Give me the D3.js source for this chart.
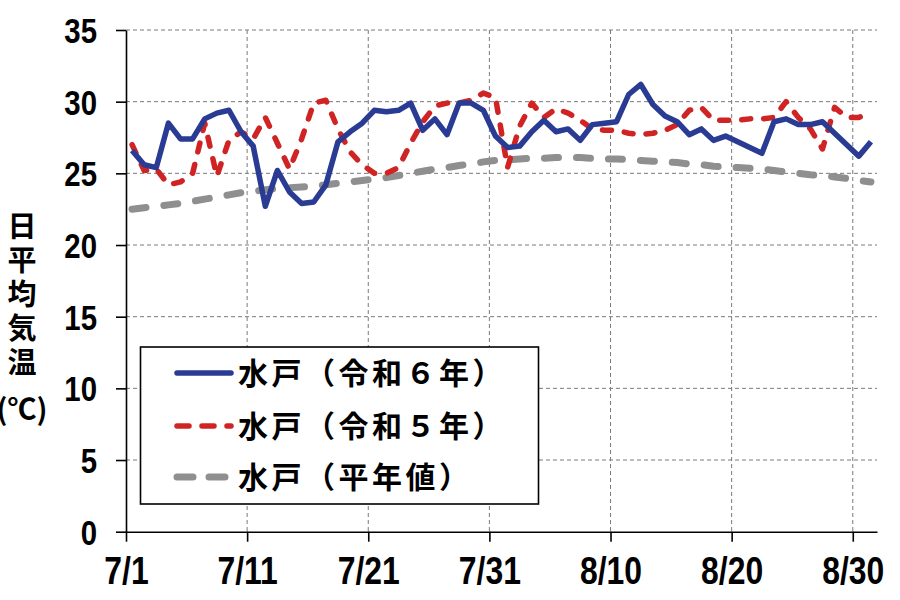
<!DOCTYPE html>
<html>
<head>
<meta charset="utf-8">
<script src="https://cdn.jsdelivr.net/npm/d3@7"></script>
<style>
  html, body { margin: 0; padding: 0; background: #fff; }
  svg { display: block; }
</style>
</head>
<body>
<div id="chart"></div>
<script>
// 日付 7/1 .. 8/31
var days = [];
for (var m = 7; m <= 8; m++) {
    for (var d = 1; d <= 31; d++) days.push(m + "/" + d);
}
var tickLabels = ["7/1", "7/11", "7/21", "7/31", "8/10", "8/20", "8/30"];
var yTicks = [0, 5, 10, 15, 20, 25, 30, 35];

// 水戸（令和６年）
var r6 = [26.6, 25.6, 25.4, 28.5, 27.4, 27.4, 28.8, 29.2, 29.4, 27.9,
          26.9, 22.7, 25.2, 23.7, 22.9, 23.0, 24.2, 27.2, 27.9, 28.5,
          29.4, 29.3, 29.4, 29.9, 28.0, 28.8, 27.7, 29.9, 29.9, 29.4,
          27.6, 26.8, 26.9, 27.9, 28.7, 27.9, 28.1, 27.3, 28.4, 28.5,
          28.6, 30.5, 31.2, 29.8, 29.0, 28.6, 27.7, 28.1, 27.3, 27.6,
          27.2, 26.8, 26.4, 28.6, 28.8, 28.4, 28.4, 28.6, 27.8, 27.0,
          26.2, 27.2];
// 水戸（令和５年）
var r5 = [27.0, 25.2, 25.3, 24.2, 24.4, 25.0, 28.5, 24.8, 27.3, 27.9,
          27.4, 28.9, 27.1, 25.3, 27.4, 29.9, 30.1, 28.1, 26.5, 25.6,
          25.0, 25.0, 25.4, 27.1, 28.6, 29.7, 29.9, 29.9, 30.1, 30.6,
          30.3, 25.4, 28.3, 29.9, 28.9, 29.5, 29.2, 28.7, 28.1, 28.0,
          28.0, 27.8, 27.7, 27.8, 28.0, 28.4, 29.4, 29.6, 28.7, 28.7,
          28.7, 28.8, 28.8, 28.9, 30.0, 28.9, 28.1, 26.7, 29.6, 28.9,
          28.9, 29.2];
// 水戸（平年値）
var normal = [22.5, 22.6, 22.7, 22.8, 22.9, 23.05, 23.2, 23.35, 23.5, 23.65,
              23.75, 23.85, 23.95, 24.0, 24.05, 24.1, 24.2, 24.3, 24.4, 24.5,
              24.6, 24.7, 24.85, 25.0, 25.15, 25.3, 25.4, 25.55, 25.65, 25.8,
              25.9, 25.95, 26.0, 26.05, 26.05, 26.1, 26.1, 26.1, 26.05, 26.0,
              26.0, 25.95, 25.9, 25.85, 25.8, 25.75, 25.65, 25.6, 25.5, 25.45,
              25.4, 25.35, 25.3, 25.2, 25.1, 25.0, 24.9, 24.85, 24.75, 24.65,
              24.5, 24.4];

var series = [
    { name: "水戸（令和６年）", values: r6, color: "#2a3b94", width: 5.5, dash: null, legendDash: null },
    { name: "水戸（令和５年）", values: r5, color: "#d02424", width: 5.5, dash: "9 13", legendDash: "12 13" },
    { name: "水戸（平年値）", values: normal, color: "#8f8f8f", width: 7, dash: "14 18", legendDash: "16 16" }
];

var width = 900, height = 600;
var margin = { left: 126, right: 877, top: 30, bottom: 531.7 };
var numFont = "'Liberation Sans',Arial,sans-serif";
var jpFont = "'Noto Sans CJK JP','Noto Sans CJK SC',sans-serif";
var squeeze = 0.84; // 数字を細長くする

var svg = d3.select("#chart").append("svg")
    .attr("width", width)
    .attr("height", height);

// 比例尺
var x = d3.scaleLinear().domain([0, days.length]).range([margin.left, margin.right]);
var y = d3.scaleLinear().domain([0, 35]).range([margin.bottom, margin.top]);
var xPos = function (i) { return x(i + 0.5); };

// グリッド
var grid = svg.append("g").attr("class", "grid")
    .attr("stroke", "#7a7a7a")
    .attr("stroke-width", 1)
    .attr("stroke-dasharray", "4 3");
grid.selectAll(".h").data(yTicks.filter(function (v) { return v > 0; }))
    .enter().append("line")
    .attr("x1", margin.left).attr("x2", margin.right)
    .attr("y1", function (v) { return y(v); })
    .attr("y2", function (v) { return y(v); });
grid.selectAll(".v").data(tickLabels.slice(1))
    .enter().append("line")
    .attr("x1", function (t) { return x(days.indexOf(t)); })
    .attr("x2", function (t) { return x(days.indexOf(t)); })
    .attr("y1", margin.top).attr("y2", margin.bottom);

// 軸
var yAxis = svg.append("g")
    .attr("transform", "translate(" + margin.left + ",0)")
    .call(d3.axisLeft(y).tickValues(yTicks).tickSize(10).tickSizeOuter(0).tickPadding(19));

var xAxis = svg.append("g")
    .attr("transform", "translate(0," + margin.bottom + ")")
    .call(d3.axisBottom(x)
        .tickValues(tickLabels.map(function (t) { return days.indexOf(t); }))
        .tickFormat(function (i) { return days[i]; })
        .tickSize(10).tickSizeOuter(0).tickPadding(15));

[yAxis, xAxis].forEach(function (g) {
    g.selectAll("path, line").attr("stroke", "#000").attr("stroke-width", 1.6);
    g.selectAll("text")
        .attr("fill", "#000")
        .style("font-family", numFont)
        .style("font-weight", "bold");
});
yAxis.selectAll("text")
    .style("font-size", "35px")
    .attr("dy", "0.36em")
    .attr("x", -29 / squeeze)
    .attr("transform", "scale(" + squeeze + ",1)");
xAxis.selectAll("text")
    .style("font-size", "38px")
    .attr("dy", "0.72em")
    .attr("transform", "scale(" + squeeze + ",1)");

// 系列
var line = d3.line()
    .x(function (v, i) { return xPos(i); })
    .y(function (v) { return y(v); });

svg.append("g").selectAll("path")
    .data(series.slice().reverse())
    .enter().append("path")
    .attr("d", function (s) { return line(s.values); })
    .attr("fill", "none")
    .attr("stroke", function (s) { return s.color; })
    .attr("stroke-width", function (s) { return s.width; })
    .attr("stroke-dasharray", function (s) { return s.dash; })
    .attr("stroke-linecap", function (s) { return s.dash ? "round" : "butt"; })
    .attr("stroke-linejoin", "round");

// 凡例
var legend = svg.append("g").attr("class", "legend");
legend.append("rect")
    .attr("x", 140.5).attr("y", 347)
    .attr("width", 398).attr("height", 157)
    .attr("fill", "#fff")
    .attr("stroke", "#000")
    .attr("stroke-width", 1.6);

var rows = legend.selectAll(".row").data(series).enter().append("g")
    .attr("transform", function (s, i) { return "translate(0," + [373, 426, 477][i] + ")"; });
rows.append("line")
    .attr("x1", 177).attr("x2", 231)
    .attr("stroke", function (s) { return s.color; })
    .attr("stroke-width", function (s) { return s.width; })
    .attr("stroke-dasharray", function (s) { return s.legendDash; })
    .attr("stroke-linecap", "round");
rows.append("text")
    .attr("x", 238)
    .attr("dy", "0.36em")
    .text(function (s) { return s.name; })
    .style("font-family", jpFont)
    .style("font-weight", "bold")
    .style("font-size", "30px")
    .style("letter-spacing", "3.5px");

// 縦軸タイトル（縦書き）
var title = svg.append("g")
    .style("font-family", jpFont)
    .style("font-weight", "bold")
    .style("font-size", "29px");
title.append("text")
    .attr("x", 22).attr("y", 211)
    .style("writing-mode", "vertical-rl")
    .style("letter-spacing", "5px")
    .text("日平均気温");
title.append("text")
    .attr("x", 22).attr("y", 410).attr("dy", "0.36em")
    .attr("text-anchor", "middle")
    .text("(℃)");
</script>
</body>
</html>
